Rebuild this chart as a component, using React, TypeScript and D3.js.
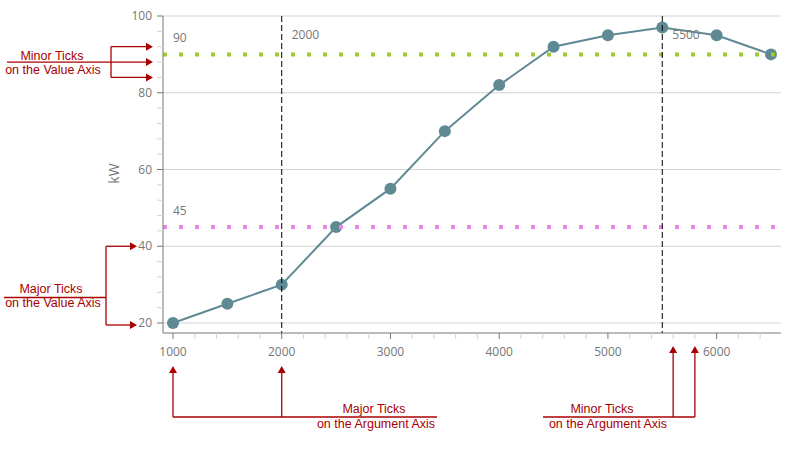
import React from "react";
import * as d3 from "d3";

const argValues = [1000, 1500, 2000, 2500, 3000, 3500, 4000, 4500, 5000, 5500, 6000, 6500];
const kwValues = [20, 25, 30, 45, 55, 70, 82, 92, 95, 97, 95, 90];
const xMajorTicks = [1000, 2000, 3000, 4000, 5000, 6000];
const xMinorStep = 200;
const yMajorTicks = [20, 40, 60, 80, 100];
const yMinorStep = 4;
const hConstLines = [
  { value: 90, label: "90", color: "#9acd32" },
  { value: 45, label: "45", color: "#ee82ee" },
];
const vConstLines = [
  { value: 2000, label: "2000" },
  { value: 5500, label: "5500" },
];

const W = 800, H = 450;
const L = 163, R = 781, T = 16, B = 333;
const PAD = 10;
const RED = "#a80000";
const GRAY = "#767676";
const TF = "'Segoe UI', 'Open Sans', sans-serif";
const AF = "'Liberation Sans', Arial, sans-serif";

export default function App() {
  const x = d3.scaleLinear().domain([1000, 6500]).range([L + PAD, R - PAD]);
  const y = d3.scaleLinear().domain([20, 100]).range([B - PAD, T]);
  const xInv = [x.invert(L), x.invert(R)];
  const yInv = [y.invert(B), y.invert(T)];
  const xMinor = d3.range(Math.ceil(xInv[0] / xMinorStep) * xMinorStep, xInv[1], xMinorStep)
    .filter((v) => !xMajorTicks.includes(v));
  const yMinor = d3.range(Math.ceil(yInv[0] / yMinorStep) * yMinorStep, yInv[1] + 0.001, yMinorStep)
    .filter((v) => !yMajorTicks.includes(v));
  const data = argValues.map((a, i) => [a, kwValues[i]] as [number, number]);
  const line = d3.line<[number, number]>().x((d) => x(d[0])).y((d) => y(d[1]));

  const arrowR = (tx: number, ty: number) =>
    `M${tx},${ty} L${tx - 7},${ty - 4} L${tx - 7},${ty + 4} Z`;
  const arrowU = (tx: number, ty: number) =>
    `M${tx},${ty} L${tx - 4},${ty + 7} L${tx + 4},${ty + 7} Z`;

  const x5600 = x(5600), x5800 = x(5800);

  return (
    <svg width={W} height={H} style={{ position: "absolute", left: 0, top: 0, background: "#fff" }}>
      {/* grid */}
      {yMajorTicks.map((v) => (
        <line key={"g" + v} x1={L} x2={R} y1={y(v)} y2={y(v)} stroke="#d3d3d3" strokeWidth={1} />
      ))}
      {/* series */}
      <path d={line(data) || ""} fill="none" stroke="#5f8a94" strokeWidth={2} />
      {data.map((d, i) => (
        <circle key={"p" + i} cx={x(d[0])} cy={y(d[1])} r={6} fill="#5f8a94" />
      ))}
      {/* constant lines */}
      {hConstLines.map((c) => (
        <g key={"h" + c.value}>
          <line x1={L} x2={R} y1={y(c.value)} y2={y(c.value)} stroke={c.color} strokeWidth={4} strokeDasharray="4 12" />
          <text x={L + 10} y={y(c.value) - 12} fontFamily={TF} fontSize={12} fill={GRAY}>{c.label}</text>
        </g>
      ))}
      {vConstLines.map((c) => (
        <g key={"v" + c.value}>
          <line x1={x(c.value)} x2={x(c.value)} y1={T} y2={B} stroke="#000" strokeWidth={1} strokeDasharray="6 3" />
          <text x={x(c.value) + 10} y={39} fontFamily={TF} fontSize={12} fill={GRAY}>{c.label}</text>
        </g>
      ))}
      {/* axes */}
      <line x1={L} x2={L} y1={T} y2={B} stroke={GRAY} strokeWidth={1} />
      <line x1={L} x2={R} y1={B} y2={B} stroke={GRAY} strokeWidth={1} />
      {yMinor.map((v) => (
        <line key={"ym" + v} x1={L - 6} x2={L} y1={y(v)} y2={y(v)} stroke="#d3d3d3" />
      ))}
      {yMajorTicks.map((v) => (
        <g key={"yt" + v}>
          <line x1={L - 6} x2={L} y1={y(v)} y2={y(v)} stroke={GRAY} />
          <text x={L - 11} y={y(v)} dy="0.35em" textAnchor="end" fontFamily={TF} fontSize={12} fill={GRAY}>{v}</text>
        </g>
      ))}
      {xMinor.map((v) => (
        <line key={"xm" + v} x1={x(v)} x2={x(v)} y1={B} y2={B + 6} stroke="#d3d3d3" />
      ))}
      {xMajorTicks.map((v) => (
        <g key={"xt" + v}>
          <line x1={x(v)} x2={x(v)} y1={B} y2={B + 6} stroke={GRAY} />
          <text x={x(v)} y={356} textAnchor="middle" fontFamily={TF} fontSize={12} fill={GRAY}>{v}</text>
        </g>
      ))}
      <text transform={`translate(119,${(T + B) / 2 - 1}) rotate(-90)`} textAnchor="middle" fontFamily={TF} fontSize={14} fill={GRAY}>kW</text>

      {/* annotation texts */}
      <g fill={RED} stroke="none" fontFamily={AF} fontSize={12.5}>
        <text x={52} y={60} textAnchor="middle">Minor Ticks</text>
        <text x={53} y={74} textAnchor="middle">on the Value Axis</text>
        <text x={51} y={293} textAnchor="middle">Major Ticks</text>
        <text x={53} y={307} textAnchor="middle">on the Value Axis</text>
        <text x={374} y={413} textAnchor="middle">Major Ticks</text>
        <text x={376} y={428} textAnchor="middle">on the Argument Axis</text>
        <text x={602} y={413} textAnchor="middle">Minor Ticks</text>
        <text x={608} y={428} textAnchor="middle">on the Argument Axis</text>
      </g>
      <g stroke={RED} strokeWidth={1.3} fill="none">
        <line x1={7} x2={111} y1={y(88)} y2={y(88)} />
        <line x1={111} x2={111} y1={y(92)} y2={y(84)} />
        {[92, 88, 84].map((v) => (
          <line key={"a1" + v} x1={111} x2={146} y1={y(v)} y2={y(v)} />
        ))}
        <line x1={4} x2={106} y1={297.5} y2={297.5} />
        <line x1={106} x2={106} y1={y(40)} y2={y(20) + 2} />
        <line x1={106} x2={130} y1={y(40)} y2={y(40)} />
        <line x1={106} x2={130} y1={y(20) + 2} y2={y(20) + 2} />
        <line x1={x(1000)} x2={x(1000)} y1={373} y2={417} />
        <line x1={x(2000)} x2={x(2000)} y1={373} y2={417} />
        <line x1={x(1000)} x2={437} y1={417} y2={417} />
        <line x1={x5600} x2={x5600} y1={353} y2={417} />
        <line x1={x5800} x2={x5800} y1={353} y2={417} />
        <line x1={543} x2={x5800} y1={417} y2={417} />
      </g>
      <g fill={RED}>
        {[92, 88, 84].map((v) => (
          <path key={"h1" + v} d={arrowR(153, y(v))} />
        ))}
        <path d={arrowR(137, y(40))} />
        <path d={arrowR(137, y(20) + 2)} />
        <path d={arrowU(x(1000), 366)} />
        <path d={arrowU(x(2000), 366)} />
        <path d={arrowU(x5600, 346)} />
        <path d={arrowU(x5800, 346)} />
      </g>
    </svg>
  );
}
